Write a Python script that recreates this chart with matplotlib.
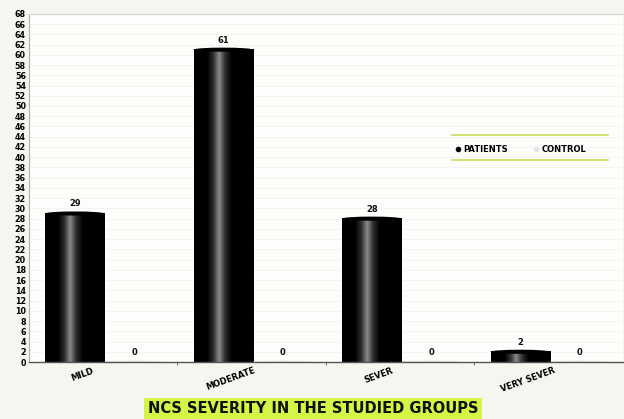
import matplotlib
matplotlib.use("Agg")
import matplotlib.pyplot as plt
import numpy as np
from matplotlib.colors import LinearSegmentedColormap
from matplotlib.lines import Line2D
from matplotlib.patches import Ellipse

categories = ["MILD", "MODERATE", "SEVER", "VERY SEVER"]
patients = [29, 61, 28, 2]
control = [0, 0, 0, 0]
series_names = ["PATIENTS", "CONTROL"]
title = "NCS SEVERITY IN THE STUDIED GROUPS"

fig = plt.figure(figsize=(6.24, 4.19), dpi=100)
fig.patch.set_facecolor("#f6f6f1")
ax = fig.add_axes([0.046, 0.136, 0.952, 0.831])
ax.set_facecolor("#fdfdfb")

x = np.arange(len(categories))
w = 0.4
off_p, off_c = -0.19, 0.21

cmap = LinearSegmentedColormap.from_list(
    "cyl", [(0.0, "#000000"), (0.22, "#000000"), (0.32, "#2e2e2e"),
            (0.42, "#8a8a8a"), (0.52, "#2e2e2e"), (0.63, "#000000"),
            (1.0, "#000000")])
grad = np.linspace(0, 1, 200).reshape(1, -1)

for xi, v in zip(x, patients):
    x0 = xi + off_p - w / 2
    ax.imshow(grad, cmap=cmap, aspect="auto", extent=[x0, x0 + w, 0, v],
              zorder=2, interpolation="bilinear")
    ax.add_patch(Ellipse((xi + off_p, v), w, 0.8, facecolor="#000000",
                         edgecolor="none", zorder=3))
    ax.text(xi + off_p, v + 1.0, str(v), ha="center", va="bottom",
            fontsize=6, fontweight="heavy", color="#111111", zorder=4)

for xi, v in zip(x, control):
    ax.add_patch(Ellipse((xi + off_c, v), w, 0.5, facecolor="#e4e4e4",
                         edgecolor="none", zorder=2))
    ax.text(xi + off_c, v + 1.0, str(v), ha="center", va="bottom",
            fontsize=6, fontweight="heavy", color="#111111", zorder=4)

ax.set_xlim(-0.5, len(categories) - 0.5)
ax.set_ylim(0, 68)

ax.set_yticks(np.arange(0, 69, 2))
ax.tick_params(axis="y", labelsize=5.8, length=0, pad=2)
for lab in ax.get_yticklabels():
    lab.set_fontweight("heavy")

ax.set_xticks(x + off_p + 0.05)
ax.set_xticklabels(categories, rotation=20, fontsize=6, fontweight="heavy",
                   ha="center")
ax.tick_params(axis="x", length=0, pad=3)
ax.set_xticks(np.arange(0.5, len(categories) - 0.5, 1), minor=True)
ax.tick_params(axis="x", which="minor", length=2, color="#555555")

for y in np.arange(2, 69, 2):
    ax.axhline(y, color="#f3f3ef", lw=0.6, zorder=0)

ax.spines["right"].set_visible(False)
ax.spines["top"].set_color("#d0d0d0")
ax.spines["left"].set_color("#b0b0b0")
ax.spines["bottom"].set_color("#555555")
ax.spines["bottom"].set_linewidth(1.0)

handles = [Line2D([], [], marker="o", color="none", markerfacecolor="#000000",
                  markeredgecolor="none", markersize=4),
           Line2D([], [], marker="o", color="none", markerfacecolor="#e6e6e6",
                  markeredgecolor="none", markersize=4)]
leg = ax.legend(handles, series_names, loc="center left",
                bbox_to_anchor=(0.705, 0.61), ncol=2, frameon=False,
                prop={"size": 6, "weight": "heavy"}, handletextpad=0.2,
                columnspacing=3.0, handlelength=0.8)
ax.plot([0.712, 0.975], [0.652, 0.652], transform=ax.transAxes,
        color="#c8e05a", lw=1.2, clip_on=False)
ax.plot([0.712, 0.975], [0.58, 0.58], transform=ax.transAxes,
        color="#c8e05a", lw=1.2, clip_on=False)

fig.text(0.502, 0.024, title, ha="center", va="center", fontsize=10.5,
         fontweight="heavy", color="#111111",
         bbox=dict(boxstyle="square,pad=0.25", facecolor="#d4f545",
                   edgecolor="none"))

fig.savefig("out.png", dpi=100, facecolor=fig.get_facecolor())
